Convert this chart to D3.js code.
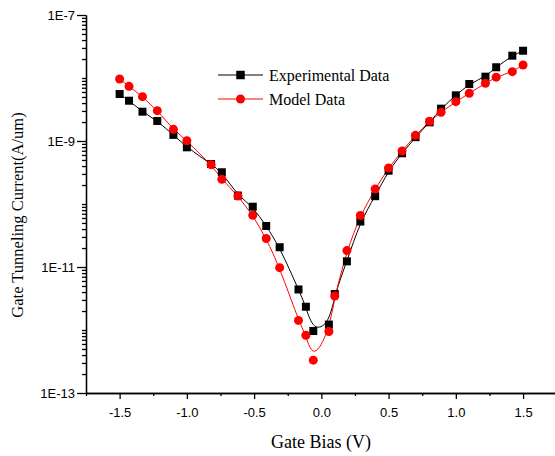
<!DOCTYPE html>
<html>
<head>
<meta charset="utf-8">
<script src="https://cdn.jsdelivr.net/npm/d3@7"></script>
<style>
  html, body { margin: 0; padding: 0; background: #fff; }
  svg { display: block; }
  .title { font-family: "Liberation Serif", "Times New Roman", serif; font-size: 16px; fill: #000; }
</style>
</head>
<body>
<script>
// gate bias (V)
var bias = [-1.5, -1.43, -1.33, -1.22, -1.1, -1.0, -0.82, -0.74, -0.62, -0.51, -0.41, -0.31,
            -0.17, -0.115, -0.06, 0.056, 0.1, 0.19, 0.29, 0.4, 0.5, 0.6, 0.7, 0.805, 0.89,
            1.0, 1.1, 1.22, 1.3, 1.42, 1.5];
// gate tunneling current (A/um)
var experimental = [5.57e-9, 4.36e-9, 2.92e-9, 2.08e-9, 1.25e-9, 7.94e-10, 4.31e-10, 3.19e-10,
                    1.36e-10, 9.06e-11, 4.48e-11, 2.06e-11, 4.40e-12, 2.34e-12, 9.64e-13,
                    1.22e-12, 3.73e-12, 1.23e-11, 5.27e-11, 1.33e-10, 3.38e-10, 6.38e-10,
                    1.15e-9, 1.98e-9, 3.26e-9, 5.31e-9, 8.03e-9, 1.05e-8, 1.48e-8, 2.26e-8, 2.71e-8];
var model = [9.64e-9, 7.38e-9, 5.05e-9, 3.03e-9, 1.53e-9, 1.01e-9, 4.21e-10, 2.47e-10,
             1.34e-10, 6.62e-11, 2.83e-11, 9.75e-12, 1.42e-12, 8.24e-13, 3.32e-13,
             9.46e-13, 3.47e-12, 1.82e-11, 6.56e-11, 1.73e-10, 3.73e-10, 6.94e-10,
             1.23e-9, 2.06e-9, 2.86e-9, 4.21e-9, 5.72e-9, 8.24e-9, 1.03e-8, 1.26e-8, 1.61e-8];
var xTicks = [-1.5, -1.0, -0.5, 0.0, 0.5, 1.0, 1.5];
var xMinor = [-1.75, -1.25, -0.75, -0.25, 0.25, 0.75, 1.25];
var yTicks = [1e-7, 1e-9, 1e-11, 1e-13];
var yTickLabels = ['1E-7', '1E-9', '1E-11', '1E-13'];
var seriesNames = ['Experimental Data', 'Model Data'];

var width = 555, height = 456;
var plotLeft = 86, plotTop = 15, plotBottom = 393, plotRight = 556.7;

var svg = d3.select('body').append('svg')
    .attr('width', width)
    .attr('height', height);

var x = d3.scaleLinear().domain([-1.75, 1.75]).range([plotLeft, plotRight]);
var y = d3.scaleLog().domain([1e-13, 1e-7]).range([plotBottom, plotTop]);

// minor log ticks: every k*10^e that has no label
var yMinor = [];
for (var e = -13; e < -7; e++) {
  for (var k = (e == -13 ? 2 : 1); k <= 9; k++) {
    var v = k * Math.pow(10, e);
    if (!(k == 1 && (e % 2) != 0)) yMinor.push(v);
  }
}

svg.append('g')
   .attr('transform', 'translate(0,' + plotBottom + ')')
   .call(d3.axisBottom(x).tickValues(xMinor).tickSize(3).tickSizeOuter(0).tickFormat(''));
svg.append('g')
   .attr('transform', 'translate(0,' + plotBottom + ')')
   .call(d3.axisBottom(x).tickValues(xTicks).tickSize(6).tickSizeOuter(0).tickPadding(9)
         .tickFormat(function(d) { return d.toFixed(1); }));

svg.append('g')
   .attr('transform', 'translate(' + plotLeft + ',0)')
   .call(d3.axisLeft(y).tickValues(yMinor).tickSize(4).tickSizeOuter(0).tickFormat(''));
svg.append('g')
   .attr('transform', 'translate(' + plotLeft + ',0)')
   .call(d3.axisLeft(y).tickValues(yTicks).tickSize(9).tickSizeOuter(0).tickPadding(2)
         .tickFormat(function(d, i) { return yTickLabels[i]; }));

svg.selectAll('.domain, .tick line').attr('stroke', '#000').attr('stroke-width', 1.3);
svg.selectAll('.tick text')
   .attr('font-family', '"Liberation Sans", Arial, sans-serif')
   .attr('font-size', 13)
   .attr('fill', '#000');

// titles
svg.append('text').attr('class', 'title')
   .attr('x', 321).attr('y', 448)
   .style('font-size', '18px')
   .attr('text-anchor', 'middle')
   .text('Gate Bias (V)');
svg.append('text').attr('class', 'title')
   .attr('transform', 'translate(23,215) rotate(-90)')
   .style('font-size', '16.5px')
   .attr('text-anchor', 'middle')
   .text('Gate Tunneling Current(A/um)');

var line = d3.line().curve(d3.curveBasis)
  .x(function(d) { return x(d[0]); })
  .y(function(d) { return y(d[1]); });

var expPts = bias.map(function(b, i) { return [b, experimental[i]]; });
var modPts = bias.map(function(b, i) { return [b, model[i]]; });

svg.append('path').datum(expPts)
   .attr('d', line).attr('fill', 'none').attr('stroke', '#000').attr('stroke-width', 1);
svg.append('path').datum(modPts)
   .attr('d', line).attr('fill', 'none').attr('stroke', '#ff0000').attr('stroke-width', 1);

var sq = 8;
svg.selectAll('rect.exp').data(expPts).enter().append('rect')
   .attr('class', 'exp')
   .attr('x', function(d) { return x(d[0]) - sq / 2; })
   .attr('y', function(d) { return y(d[1]) - sq / 2; })
   .attr('width', sq).attr('height', sq)
   .attr('fill', '#000');

svg.selectAll('circle.mod').data(modPts).enter().append('circle')
   .attr('class', 'mod')
   .attr('cx', function(d) { return x(d[0]); })
   .attr('cy', function(d) { return y(d[1]); })
   .attr('r', 4.5)
   .attr('fill', '#ff0000');

// legend
var legend = svg.append('g').attr('transform', 'translate(218,75)');
legend.append('line').attr('x1', 0).attr('x2', 45).attr('y1', 0).attr('y2', 0)
      .attr('stroke', '#000');
legend.append('rect').attr('x', 22.5 - 4.25).attr('y', -4.25).attr('width', 8.5).attr('height', 8.5)
      .attr('fill', '#000');
legend.append('text').attr('class', 'title').attr('x', 51).attr('y', 5.5).text(seriesNames[0]);
legend.append('line').attr('x1', 0).attr('x2', 45).attr('y1', 24).attr('y2', 24)
      .attr('stroke', '#ff0000');
legend.append('circle').attr('cx', 22.5).attr('cy', 24).attr('r', 4.5)
      .attr('fill', '#ff0000');
legend.append('text').attr('class', 'title').attr('x', 51).attr('y', 29.5).text(seriesNames[1]);
</script>
</body>
</html>
